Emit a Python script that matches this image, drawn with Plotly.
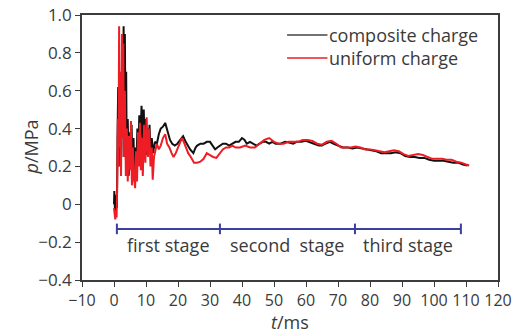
import plotly.graph_objects as go

# time (ms) and pressure (MPa)
t_composite = [0.0, 0.1, 0.3, 0.5, 0.7, 0.9, 1.1, 1.3, 1.5, 1.7, 1.9, 2.1, 2.3, 2.6, 2.8, 3.0, 3.2, 3.4, 3.6, 3.8,
               4.0, 4.3, 4.6, 4.9, 5.2, 5.5, 5.8, 6.1, 6.4, 6.7, 7.0, 7.3, 7.6, 7.9, 8.2, 8.6, 9.0, 9.3, 9.6, 9.9,
               10.2, 10.5, 10.8, 11.1, 11.4, 11.8, 12.2, 12.8, 13.4, 14.0, 14.6, 15.3, 16.0, 16.5, 17.0, 17.5, 18.2,
               19.0, 19.8, 20.6, 21.6, 22.4, 23.0, 23.8, 24.8, 25.5, 26.0, 27.0, 28.0, 29.0, 30.0, 31.0, 31.6, 32.3,
               33.0, 34.0, 35.0, 36.0, 37.0, 38.0, 39.0, 40.0, 40.8, 41.5, 42.5, 43.5, 44.5, 45.5, 46.5, 47.5, 48.5,
               49.5, 50.5, 52.0, 53.5, 55.0, 56.0, 57.0, 58.5, 60.0, 61.0, 62.5, 64.0, 65.0, 66.0, 67.5, 68.5, 70.0,
               71.5, 73.0, 74.5, 76.0, 77.5, 79.0, 80.5, 82.0, 83.5, 85.0, 86.5, 88.0, 89.5, 91.0, 92.5, 94.0, 95.5,
               97.0, 98.5, 100.0, 101.5, 103.0, 104.5, 106.0, 107.5, 109.0, 110.5]
p_composite = [0.0, 0.07, -0.03, -0.05, 0.05, -0.02, 0.35, 0.62, 0.20, 0.55, 0.30, 0.58, 0.25, 0.75, 0.40, 0.94, 0.55,
               0.90, 0.35, 0.70, 0.20, 0.45, 0.15, 0.38, 0.22, 0.42, 0.18, 0.35, 0.12, 0.30, 0.20, 0.40, 0.25, 0.47,
               0.30, 0.52, 0.35, 0.50, 0.28, 0.45, 0.26, 0.40, 0.30, 0.42, 0.28, 0.35, 0.27, 0.33, 0.32, 0.37, 0.40,
               0.41, 0.43, 0.40, 0.36, 0.34, 0.32, 0.31, 0.32, 0.34, 0.36, 0.33, 0.31, 0.29, 0.27, 0.30, 0.31, 0.32,
               0.32, 0.33, 0.33, 0.30, 0.29, 0.30, 0.31, 0.32, 0.32, 0.31, 0.32, 0.33, 0.33, 0.35, 0.34, 0.32, 0.33,
               0.32, 0.31, 0.32, 0.33, 0.33, 0.32, 0.33, 0.32, 0.32, 0.33, 0.325, 0.32, 0.33, 0.33, 0.335, 0.33, 0.32,
               0.31, 0.31, 0.32, 0.33, 0.32, 0.31, 0.30, 0.30, 0.295, 0.30, 0.295, 0.29, 0.285, 0.28, 0.27, 0.27,
               0.27, 0.275, 0.27, 0.255, 0.25, 0.25, 0.245, 0.245, 0.235, 0.23, 0.23, 0.23, 0.225, 0.22, 0.22, 0.21,
               0.205]

t_uniform = [0.0, 0.2, 0.4, 0.6, 0.8, 1.0, 1.2, 1.4, 1.6, 1.8, 2.0, 2.2, 2.5, 2.7, 2.9, 3.1, 3.4, 3.7, 4.0, 4.3,
             4.6, 5.0, 5.3, 5.6, 5.9, 6.2, 6.6, 6.9, 7.2, 7.5, 7.8, 8.1, 8.4, 8.7, 9.0, 9.4, 9.8, 10.2, 10.6, 11.0,
             11.4, 11.8, 12.1, 12.5, 13.0, 13.4, 14.0, 14.6, 15.3, 16.0, 16.6, 17.3, 18.0, 18.6, 19.3, 20.0, 20.6,
             21.2, 21.8, 22.5, 23.2, 24.0, 25.0, 26.0, 27.0, 28.0, 29.0, 30.0, 31.0, 32.0, 33.0, 34.0, 35.0, 36.0,
             37.0, 38.0, 39.4, 41.0, 42.5, 44.0, 45.5, 47.0, 48.5, 50.0, 51.5, 53.0, 54.5, 56.0, 57.5, 59.0, 60.5,
             62.0, 63.5, 65.0, 66.5, 68.0, 69.5, 71.0, 72.5, 74.0, 75.5, 77.0, 78.5, 80.0, 81.5, 83.0, 84.5, 86.0,
             87.5, 89.0, 90.5, 92.0, 93.5, 95.0, 96.5, 98.0, 99.5, 101.0, 102.5, 104.0, 105.5, 107.0, 108.5, 110.0,
             111.0]
p_uniform = [-0.02, -0.06, -0.08, -0.03, -0.07, 0.10, 0.45, 0.20, 0.94, 0.30, 0.70, 0.15, 0.90, 0.35, 0.85, 0.25,
             0.60, 0.15, 0.40, 0.12, 0.36, 0.18, 0.44, 0.10, 0.30, 0.15, 0.085, 0.28, 0.12, 0.38, 0.20, 0.43, 0.18,
             0.35, 0.15, 0.42, 0.22, 0.46, 0.25, 0.40, 0.20, 0.30, 0.13, 0.25, 0.30, 0.32, 0.29, 0.31, 0.35, 0.37,
             0.32, 0.30, 0.27, 0.25, 0.27, 0.30, 0.33, 0.35, 0.33, 0.30, 0.27, 0.25, 0.22, 0.22, 0.225, 0.24, 0.27,
             0.26, 0.25, 0.245, 0.27, 0.29, 0.30, 0.30, 0.31, 0.30, 0.30, 0.31, 0.30, 0.30, 0.32, 0.34, 0.35, 0.33,
             0.32, 0.32, 0.33, 0.33, 0.33, 0.34, 0.34, 0.335, 0.32, 0.315, 0.33, 0.335, 0.32, 0.30, 0.30, 0.30, 0.305,
             0.30, 0.29, 0.29, 0.285, 0.28, 0.275, 0.28, 0.285, 0.28, 0.265, 0.255, 0.26, 0.265, 0.26, 0.25, 0.24,
             0.24, 0.24, 0.235, 0.235, 0.225, 0.22, 0.21, 0.205]

series_names = ["composite charge", "uniform charge"]
series_colors = ["#111111", "#ee1c25"]
legend_line_colors = ["#444444", "#ee1c25"]

# stage boundaries (ms) and stage labels
stage_bounds = [0.9, 33.1, 75.3, 108.4]
stage_names = ["first stage", "second  stage", "third stage"]
stage_level = -0.13
stage_text_level = -0.215

x_ticks = list(range(-10, 121, 10))
y_ticks = [-0.4, -0.2, 0, 0.2, 0.4, 0.6, 0.8, 1.0]
y_ticktext = ["\u22120.4", "\u22120.2", "0", "0.2", "0.4", "0.6", "0.8", "1.0"]

FONT = "Open Sans"
TXT = "#3a3a3a"
BLUE = "#3c3f9c"
AX = "#3c3c3c"

fig = go.Figure()
fig.add_trace(go.Scatter(x=t_composite, y=p_composite, mode="lines", name=series_names[0],
                         line=dict(color=series_colors[0], width=2)))
fig.add_trace(go.Scatter(x=t_uniform, y=p_uniform, mode="lines", name=series_names[1],
                         line=dict(color=series_colors[1], width=2)))

# stage bar
fig.add_trace(go.Scatter(x=[stage_bounds[0], stage_bounds[-1]], y=[stage_level, stage_level], mode="lines",
                         line=dict(color=BLUE, width=2), showlegend=False, hoverinfo="skip"))
for b in stage_bounds:
    fig.add_shape(type="line", x0=b, x1=b, y0=stage_level - 0.028, y1=stage_level + 0.028,
                  line=dict(color=BLUE, width=2))
for i, name in enumerate(stage_names):
    fig.add_annotation(x=(stage_bounds[i] + stage_bounds[i + 1]) / 2, y=stage_text_level, text=name,
                       showarrow=False, font=dict(family=FONT, size=18, color=TXT))

# legend drawn manually (paper coordinates)
leg_y = [0.925, 0.838]
for name, col, ly in zip(series_names, legend_line_colors, leg_y):
    fig.add_shape(type="line", xref="paper", yref="paper", x0=0.493, x1=0.59, y0=ly, y1=ly,
                  line=dict(color=col, width=1.5))
    fig.add_annotation(xref="paper", yref="paper", x=0.592, y=ly, xanchor="left", yanchor="middle",
                       text=name, showarrow=False, borderpad=0,
                       font=dict(family=FONT, size=18, color=TXT))

# axis titles
fig.add_annotation(xref="paper", yref="paper", x=0.5, y=-0.16, text="<i>t</i>/ms", showarrow=False,
                   xanchor="center", yanchor="middle", borderpad=0,
                   font=dict(family=FONT, size=18, color=TXT))
fig.add_annotation(xref="paper", yref="paper", x=-0.125, y=0.5, text="<i>p</i>/MPa", showarrow=False,
                   textangle=-90, xanchor="center", yanchor="middle", borderpad=0,
                   font=dict(family=FONT, size=18, color=TXT))

fig.update_layout(
    width=526, height=333,
    margin=dict(l=82, r=28, t=15, b=53),
    paper_bgcolor="white", plot_bgcolor="white",
    font=dict(family=FONT, size=17, color=TXT),
    showlegend=False,
)
fig.update_xaxes(range=[-10, 120], tickvals=x_ticks, ticks="outside", ticklen=5, tickcolor=AX,
                 showline=True, linecolor=AX, linewidth=1.6, mirror=True, showgrid=False, zeroline=False,
                 automargin=False, tickfont=dict(family=FONT, size=16, color=TXT))
fig.update_yaxes(range=[-0.4, 1.0], tickvals=y_ticks, ticktext=y_ticktext, ticks="outside", ticklen=5,
                 tickcolor=AX, showline=True, linecolor=AX, linewidth=1.6, mirror=True, showgrid=False,
                 zeroline=False, automargin=False, tickfont=dict(family=FONT, size=17, color=TXT))

fig.write_html("out.html")
